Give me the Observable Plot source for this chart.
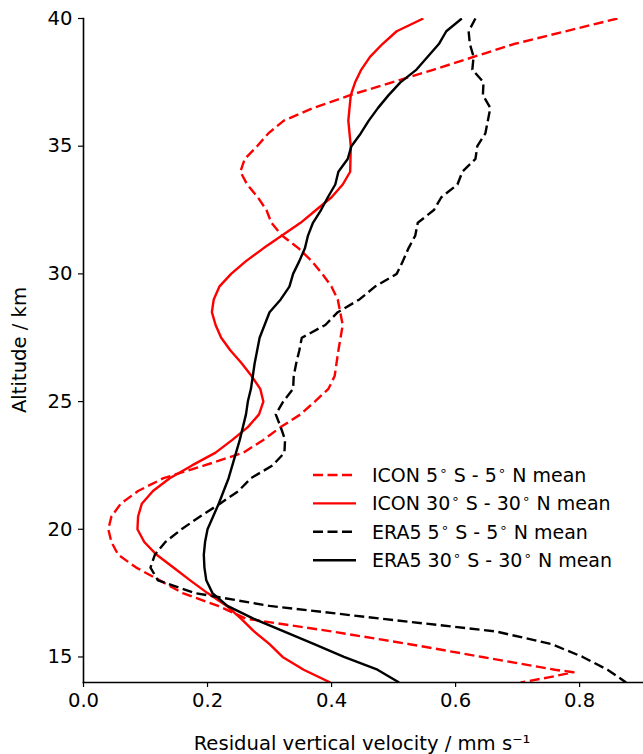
<!DOCTYPE html>
<html>
<head>
<meta charset="utf-8">
<script src="https://cdn.jsdelivr.net/npm/d3@7"></script>
<script src="https://cdn.jsdelivr.net/npm/@observablehq/plot@0.6"></script>
<style>
  html, body { margin: 0; padding: 0; background: white; }
  #chart { width: 643px; height: 754px; }
</style>
</head>
<body>
<div id="chart"></div>
<script>
// ---- Data ----
const xTicks = [0, 0.2, 0.4, 0.6, 0.8];
const yTicks = [15, 20, 25, 30, 35, 40];
const xLabel = "Residual vertical velocity / mm s\u207B\u00B9";
const yLabel = "Altitude / km";
const seriesNames = [
  "ICON 5° S - 5° N mean",
  "ICON 30° S - 30° N mean",
  "ERA5 5° S - 5° N mean",
  "ERA5 30° S - 30° N mean"
];

// ICON 5S-5N
const iconEqAlt = [40,39,38,37,36.5,36,35.5,35,34.5,34,33.5,33,32.5,32,31.5,31,30.5,30,29.5,29,28,27,26,25.5,25,24.5,24,23.5,23,22.5,22,21.5,21,20.5,20,19.5,19,18.5,18,17.5,17,16.5,16,15.5,15,14.5,14.4,14.2,14];
const iconEqW   = [0.861,0.694,0.565,0.43,0.371,0.323,0.298,0.28,0.26,0.253,0.264,0.281,0.295,0.303,0.32,0.347,0.368,0.385,0.40,0.41,0.418,0.411,0.405,0.395,0.373,0.35,0.318,0.29,0.258,0.195,0.129,0.088,0.06,0.045,0.04,0.045,0.056,0.085,0.123,0.16,0.217,0.262,0.40,0.526,0.643,0.76,0.79,0.75,0.705];

// ICON 30S-30N
const iconTrAlt = [40,39.5,39,38.5,38,37.5,37,36,35,34,33.5,33,32.5,32,31.5,31,30.5,30,29.5,29,28.5,28,27.5,27,26.5,26,25.5,25,24.5,24,23.5,23,22.5,22,21.5,21,20.5,20,19.5,19,18.5,18,17.5,17,16.5,16,15.5,15,14.5,14];
const iconTrW   = [0.548,0.505,0.482,0.462,0.448,0.438,0.431,0.427,0.431,0.43,0.418,0.40,0.375,0.35,0.32,0.29,0.262,0.238,0.219,0.21,0.207,0.213,0.222,0.237,0.255,0.271,0.285,0.29,0.283,0.265,0.24,0.213,0.175,0.139,0.112,0.094,0.088,0.087,0.098,0.118,0.145,0.172,0.2,0.231,0.254,0.275,0.3,0.321,0.355,0.398];

// ERA5 5S-5N
const eraEqAlt = [40,39.5,39,38.5,38,37.5,37,36.5,36,35.5,35,34.5,34,33.5,33,32.5,32,31.5,31,30.5,30,29.5,29,28.5,28,27.5,27,26.5,26,25.5,25,24.5,24,23.5,23,22.5,22,21.5,21,20.5,20,19.5,19,18.5,18,17.5,17,16.5,16,15.5,15,14.5,14];
const eraEqW   = [0.632,0.621,0.623,0.629,0.627,0.645,0.644,0.656,0.652,0.648,0.635,0.632,0.611,0.603,0.577,0.565,0.539,0.535,0.524,0.515,0.505,0.47,0.445,0.41,0.39,0.352,0.348,0.343,0.339,0.338,0.322,0.31,0.318,0.325,0.324,0.305,0.27,0.25,0.22,0.188,0.158,0.132,0.115,0.108,0.12,0.18,0.30,0.48,0.665,0.755,0.805,0.845,0.875];

// ERA5 30S-30N
const eraTrAlt = [40,39.5,39,38.5,38,37.5,37,36.5,36,35.5,35,34.5,34,33.5,33,32.5,32,31.5,31,30.5,30,29.5,29,28.5,28,27.5,27,26.5,26,25.5,25,24.5,24,23.5,23,22.5,22,21.5,21,20.5,20,19.5,19,18.5,18,17.5,17,16.5,16,15.5,15,14.5,14];
const eraTrW   = [0.61,0.585,0.573,0.555,0.537,0.511,0.492,0.475,0.46,0.447,0.432,0.426,0.411,0.406,0.394,0.383,0.37,0.362,0.357,0.348,0.338,0.332,0.318,0.30,0.292,0.284,0.28,0.276,0.273,0.27,0.265,0.262,0.257,0.252,0.246,0.24,0.234,0.226,0.218,0.209,0.20,0.196,0.194,0.195,0.198,0.208,0.232,0.274,0.323,0.372,0.42,0.474,0.509];

// ---- Styles ----
const styles = [
  {stroke: "#ff0000", dash: "10,4.5"},
  {stroke: "#ff0000", dash: null},
  {stroke: "#000000", dash: "10,4.5"},
  {stroke: "#000000", dash: null}
];
const rowsOf = (alt, w) => alt.map((a, i) => ({alt: a, w: w[i]}));
const series = [
  rowsOf(iconEqAlt, iconEqW),
  rowsOf(iconTrAlt, iconTrW),
  rowsOf(eraEqAlt, eraEqW),
  rowsOf(eraTrAlt, eraTrW)
];

const FONT = "DejaVu Sans, Liberation Sans, sans-serif";
const FS = 19.6;
const LFS = 19;
const lineMarks = series.map((rows, i) => Plot.line(rows, {
  x: "w", y: "alt", stroke: styles[i].stroke, strokeWidth: 2.4,
  strokeDasharray: styles[i].dash || undefined, strokeLinecap: "butt",
  strokeLinejoin: "round", clip: true
}));

const svg = Plot.plot({
  width: 643, height: 754,
  marginLeft: 83, marginRight: 0, marginTop: 18, marginBottom: 72,
  style: {fontFamily: FONT, fontSize: FS + "px", color: "black", background: "white", overflow: "visible"},
  x: {domain: [0, 0.903]},
  y: {domain: [14, 40]},
  marks: [
    ...lineMarks,
    Plot.axisX({ticks: xTicks, tickFormat: d => d.toFixed(1), tickSize: 5, tickPadding: 6, label: null, fontSize: FS, strokeWidth: 1.2}),
    Plot.axisY({ticks: yTicks, tickFormat: d => String(d), tickSize: 5, tickPadding: 6, label: null, fontSize: FS, strokeWidth: 1.2}),
    Plot.frame({anchor: "left", stroke: "black", strokeWidth: 1.6}),
    Plot.frame({anchor: "bottom", stroke: "black", strokeWidth: 1.6})
  ]
});

const root = d3.select(svg);
// axis labels
root.append("text").attr("x", 362).attr("y", 743).attr("text-anchor", "middle")
  .attr("dominant-baseline", "central").attr("font-family", FONT).attr("font-size", FS)
  .attr("fill", "black").text(xLabel);
root.append("text").attr("transform", "translate(19,350) rotate(-90)").attr("text-anchor", "middle")
  .attr("dominant-baseline", "central").attr("font-family", FONT).attr("font-size", FS)
  .attr("fill", "black").text(yLabel);

// legend (degree drawn as a small superscript ring, like matplotlib mathtext)
const leg = root.append("g").attr("text-anchor", "start");
const legY0 = 475, legDy = 28.4;
seriesNames.forEach((name, i) => {
  const y = legY0 + i * legDy;
  leg.append("line").attr("x1", 313).attr("x2", 356).attr("y1", y).attr("y2", y)
    .attr("stroke", styles[i].stroke).attr("stroke-width", 2.4)
    .attr("stroke-dasharray", styles[i].dash || null);
  const t = leg.append("text").attr("x", 372).attr("y", y + 7)
    .attr("text-anchor", "start")
    .attr("font-family", FONT).attr("font-size", LFS).attr("fill", "black");
  const parts = name.split("°");
  parts.forEach((p, k) => {
    if (k > 0) {
      t.append("tspan").attr("dx", 1).attr("dy", -7).attr("font-size", 13.5).text("\u2218");
      t.append("tspan").attr("dy", 7).attr("font-size", LFS).text(p);
    } else {
      t.append("tspan").text(p);
    }
  });
});

document.getElementById("chart").appendChild(svg);
</script>
</body>
</html>
